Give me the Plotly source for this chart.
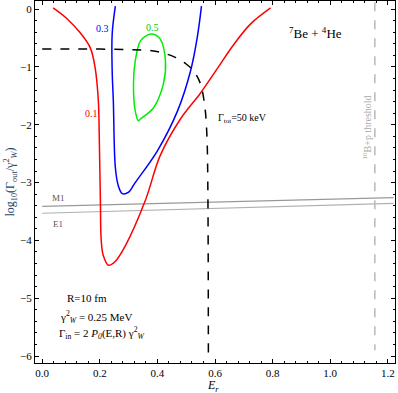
import plotly.graph_objects as go

# contour 0.1 (red)
red_E = [0.038, 0.087, 0.132, 0.167, 0.184, 0.195, 0.198, 0.202, 0.205, 0.212, 0.23,
         0.254, 0.289, 0.358, 0.41, 0.48, 0.55, 0.609, 0.664, 0.723, 0.793]
red_v = [0.02, -0.17, -0.41, -0.67, -1.02, -1.59, -2.16, -3.31, -4.0, -4.26, -4.43,
         -4.36, -4.09, -3.31, -2.53, -1.90, -1.45, -1.02, -0.62, -0.26, 0.02]

# contour 0.3 (blue)
blue_E = [0.254, 0.243, 0.243, 0.247, 0.254, 0.264, 0.278, 0.299, 0.323, 0.40, 0.47, 0.515, 0.539, 0.553]
blue_v = [0.05, -0.43, -1.07, -1.59, -2.74, -3.05, -3.19, -3.17, -3.0, -2.45, -1.76, -1.07, -0.47, 0.05]

# contour 0.5 (green, closed)
green_E = [0.383, 0.41, 0.428, 0.421, 0.386, 0.341, 0.334, 0.323, 0.317, 0.323, 0.341, 0.365, 0.383]
green_v = [-0.43, -0.52, -0.90, -1.29, -1.71, -1.90, -1.93, -1.76, -1.29, -0.90, -0.55, -0.45, -0.43]

# Gamma_tot = 50 keV (black dashed)
tot_E = [0.0, 0.15, 0.30, 0.38, 0.42, 0.46, 0.50, 0.53, 0.55, 0.565, 0.572, 0.575, 0.577]
tot_v = [-0.69, -0.69, -0.70, -0.72, -0.76, -0.83, -0.95, -1.10, -1.30, -1.70, -2.20, -3.0, -6.0]

# radiative widths
line_E = [0.0, 1.22]
m1_v = [-3.41, -3.26]
e1_v = [-3.53, -3.36]

thresh_E = [1.155, 1.155]
thresh_v = [0.12, -5.9]

SERIF = "Liberation Serif"

fig = go.Figure()
fig.add_trace(go.Scatter(x=line_E, y=m1_v, mode="lines", line=dict(color="#999999", width=1.2)))
fig.add_trace(go.Scatter(x=line_E, y=e1_v, mode="lines", line=dict(color="#b0b0b0", width=1.2)))
fig.add_trace(go.Scatter(x=thresh_E, y=thresh_v, mode="lines", line=dict(color="#b8b8b8", width=1.5, dash="dash")))
fig.add_trace(go.Scatter(x=red_E, y=red_v, mode="lines", line=dict(color="#ff0000", width=1.5, shape="spline")))
fig.add_trace(go.Scatter(x=blue_E, y=blue_v, mode="lines", line=dict(color="#0000ff", width=1.5, shape="spline")))
fig.add_trace(go.Scatter(x=green_E, y=green_v, mode="lines", line=dict(color="#00ee00", width=1.5, shape="spline")))
fig.add_trace(go.Scatter(x=tot_E, y=tot_v, mode="lines", line=dict(color="black", width=1.5, dash="dash", shape="spline")))

ann = [
    (0.209, -0.34, "0.3", "#0000ff", 10, "center"),
    (0.383, -0.31, "0.5", "#00cc00", 10, "center"),
    (0.17, -1.81, "0.1", "#ff0000", 10, "center"),
    (0.95, -0.41, "<sup>7</sup>Be + <sup>4</sup>He", "black", 13, "center"),
    (0.696, -1.90, "Γ<sub>tot</sub>=50 keV", "black", 10, "center"),
    (0.056, -3.26, "M1", "#555555", 9, "center"),
    (0.056, -3.71, "E1", "#555555", 9, "center"),
    (0.08, -5.0, "R=10 fm", "black", 11, "left"),
    (0.056, -5.33, "γ<sup>2</sup><sub><i>W</i></sub> = 0.25 MeV", "black", 11, "left"),
    (0.052, -5.6, "Γ<sub>in</sub> = 2 <i>P<sub>0</sub></i>(E,R) γ<sup>2</sup><sub><i>W</i></sub>", "black", 11, "left"),
]
for x, y, t, c, s, anc in ann:
    fig.add_annotation(x=x, y=y, text=t, showarrow=False, xanchor=anc,
                       font=dict(family=SERIF, size=s, color=c))
fig.add_annotation(x=1.127, y=-2.05, text="<sup>10</sup>B+p threshold", textangle=-90, showarrow=False,
                   font=dict(family=SERIF, size=10, color="#aaaaaa"))
# x-axis label sits a little lower than plotly's default title spot
fig.add_annotation(x=0.495, y=-0.064, xref="paper", yref="paper", text="<i>E<sub>r</sub></i>",
                   showarrow=False, yanchor="middle", font=dict(family=SERIF, size=12, color="black"))

axis = dict(showgrid=False, zeroline=False, showline=True, linecolor="black", linewidth=1,
            mirror="ticks", ticks="inside", ticklen=4, tickcolor="black", automargin=False,
            tickfont=dict(family=SERIF, size=11, color="black"))
fig.update_layout(
    width=398, height=393, showlegend=False,
    plot_bgcolor="white", paper_bgcolor="white",
    margin=dict(l=35, r=3, t=1, b=30),
    xaxis=dict(axis, range=[-0.025, 1.225], dtick=0.2, tickformat=".1f",
               minor=dict(dtick=0.04, ticks="inside", ticklen=2, tickcolor="black")),
    yaxis=dict(axis, range=[-6.12, 0.14], dtick=1,
               minor=dict(dtick=0.2, ticks="inside", ticklen=2, tickcolor="black"),
               title=dict(text="log<sub>10</sub>(Γ<sub>out</sub>/γ<sup>2</sup><sub><i>W</i></sub>)",
                          font=dict(family=SERIF, size=12), standoff=2)),
)
# page body has a default 8px margin; drop it so the figure sits at the window's corner
fig.write_html("out.html", config={"displayModeBar": False},
               post_script="document.body.style.margin='0';")
